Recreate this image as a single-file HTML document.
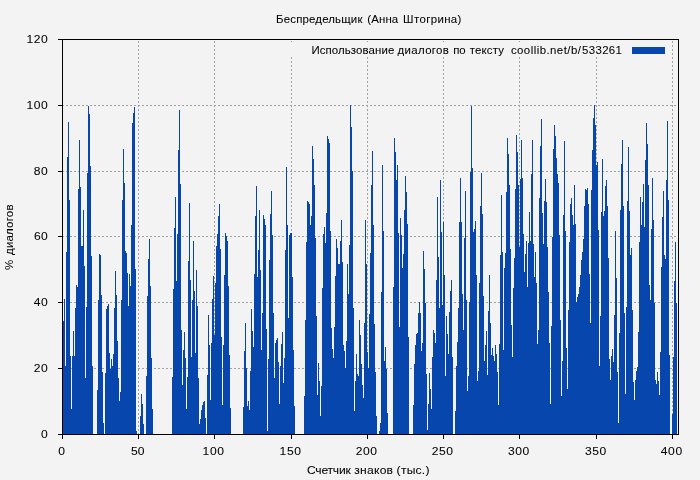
<!DOCTYPE html>
<html><head><meta charset="utf-8">
<style>
html,body{margin:0;padding:0;}
body{width:700px;height:480px;background:#f3f3f3;position:relative;overflow:hidden;}
svg{position:absolute;left:0;top:0}
text{font-family:"Liberation Sans",sans-serif;font-size:11px;fill:#000;stroke:#000;stroke-width:0.06;white-space:pre}
</style></head><body>
<svg width="700" height="480" viewBox="0 0 700 480" shape-rendering="crispEdges">
<g id="grid" stroke="#a0a0a0" stroke-width="1" stroke-dasharray="2 2" fill="none">
<path d="M62 368.5H678M62 302.5H678M62 236.5H678M62 171.5H678M62 105.5H678"/>
<path d="M138.5 435V40M214.5 435V40M291.5 435V40M367.5 435V40M443.5 435V40M519.5 435V40M596.5 435V40M672.5 435V40"/>
</g>
<rect x="280" y="42" width="388" height="15" fill="#f3f3f3"/>
<g id="bars" fill="#0646ad"><path d="M63 434V321h1V434zM64 434V299h1V434zM65 434V366h1V434zM66 434V252h1V434zM67 434V157h1V434zM68 434V122h1V434zM69 434V200h1V434zM70 434V356h1V434zM71 434V409h1V434zM72 434V356h1V434zM73 434V331h1V434zM74 434V356h1V434zM75 434V308h1V434zM76 434V285h1V434zM77 434V287h1V434zM78 434V189h1V434zM79 434V140h1V434zM80 434V187h1V434zM81 434V246h1V434zM82 434V246h1V434zM83 434V210h1V434zM84 434V266h1V434zM85 434V378h1V434zM86 434V307h1V434zM87 434V173h1V434zM88 434V106h1V434zM89 434V114h1V434zM90 434V166h1V434zM91 434V256h1V434zM92 434V366h1V434zM97 434V390h1V434zM98 434V300h1V434zM99 434V254h1V434zM100 434V255h1V434zM101 434V295h1V434zM102 434V372h1V434zM103 434V423h1V434zM105 434V373h1V434zM106 434V309h1V434zM107 434V306h1V434zM108 434V304h1V434zM109 434V353h1V434zM110 434V369h1V434zM111 434V359h1V434zM112 434V366h1V434zM113 434V354h1V434zM114 434V308h1V434zM115 434V271h1V434zM116 434V295h1V434zM117 434V341h1V434zM118 434V378h1V434zM119 434V401h1V434zM120 434V392h1V434zM121 434V300h1V434zM122 434V200h1V434zM123 434V149h1V434zM124 434V183h1V434zM125 434V251h1V434zM126 434V253h1V434zM127 434V273h1V434zM128 434V306h1V434zM129 434V274h1V434zM130 434V286h1V434zM131 434V225h1V434zM132 434V123h1V434zM133 434V113h1V434zM134 434V107h1V434zM135 434V269h1V434zM136 434V431h1V434zM140 434V416h1V434zM141 434V394h1V434zM142 434V404h1V434zM143 434V424h1V434zM146 434V376h1V434zM147 434V296h1V434zM148 434V259h1V434zM149 434V239h1V434zM150 434V286h1V434zM151 434V358h1V434zM152 434V409h1V434zM172 434V377h1V434zM173 434V289h1V434zM174 434V228h1V434zM175 434V197h1V434zM176 434V281h1V434zM177 434V234h1V434zM178 434V150h1V434zM179 434V110h1V434zM180 434V184h1V434zM181 434V330h1V434zM182 434V385h1V434zM183 434V350h1V434zM184 434V332h1V434zM185 434V358h1V434zM186 434V409h1V434zM187 434V377h1V434zM188 434V261h1V434zM189 434V203h1V434zM190 434V280h1V434zM191 434V357h1V434zM192 434V300h1V434zM193 434V241h1V434zM194 434V291h1V434zM195 434V353h1V434zM196 434V270h1V434zM197 434V306h1V434zM198 434V378h1V434zM199 434V424h1V434zM200 434V419h1V434zM201 434V410h1V434zM202 434V405h1V434zM203 434V402h1V434zM204 434V401h1V434zM205 434V418h1V434zM207 434V375h1V434zM208 434V315h1V434zM209 434V345h1V434zM210 434V400h1V434zM211 434V343h1V434zM212 434V299h1V434zM213 434V276h1V434zM214 434V335h1V434zM215 434V283h1V434zM216 434V246h1V434zM217 434V234h1V434zM218 434V216h1V434zM219 434V204h1V434zM220 434V249h1V434zM221 434V337h1V434zM222 434V405h1V434zM223 434V345h1V434zM224 434V275h1V434zM225 434V233h1V434zM226 434V236h1V434zM227 434V241h1V434zM228 434V286h1V434zM229 434V355h1V434zM230 434V408h1V434zM243 434V407h1V434zM244 434V351h1V434zM245 434V323h1V434zM246 434V368h1V434zM247 434V406h1V434zM248 434V401h1V434zM249 434V410h1V434zM250 434V371h1V434zM251 434V309h1V434zM252 434V331h1V434zM253 434V347h1V434zM254 434V274h1V434zM255 434V216h1V434zM256 434V186h1V434zM257 434V277h1V434zM258 434V250h1V434zM259 434V210h1V434zM260 434V270h1V434zM261 434V350h1V434zM262 434V313h1V434zM263 434V215h1V434zM264 434V219h1V434zM265 434V225h1V434zM266 434V329h1V434zM267 434V431h1V434zM268 434V359h1V434zM269 434V260h1V434zM270 434V214h1V434zM271 434V191h1V434zM272 434V235h1V434zM273 434V313h1V434zM274 434V378h1V434zM275 434V343h1V434zM276 434V340h1V434zM277 434V338h1V434zM278 434V362h1V434zM279 434V404h1V434zM280 434V366h1V434zM281 434V344h1V434zM282 434V332h1V434zM283 434V383h1V434zM284 434V358h1V434zM285 434V250h1V434zM286 434V167h1V434zM287 434V225h1V434zM288 434V318h1V434zM289 434V235h1V434zM290 434V233h1V434zM291 434V233h1V434zM292 434V277h1V434zM293 434V350h1V434zM294 434V406h1V434zM304 434V396h1V434zM305 434V320h1V434zM306 434V242h1V434zM307 434V201h1V434zM308 434V202h1V434zM309 434V204h1V434zM310 434V225h1V434zM311 434V216h1V434zM312 434V146h1V434zM313 434V159h1V434zM314 434V185h1V434zM315 434V238h1V434zM316 434V316h1V434zM317 434V395h1V434zM318 434V363h1V434zM319 434V381h1V434zM320 434V416h1V434zM321 434V386h1V434zM322 434V288h1V434zM323 434V234h1V434zM324 434V227h1V434zM325 434V243h1V434zM326 434V213h1V434zM327 434V136h1V434zM328 434V139h1V434zM329 434V143h1V434zM330 434V231h1V434zM331 434V328h1V434zM332 434V349h1V434zM333 434V358h1V434zM334 434V327h1V434zM335 434V276h1V434zM336 434V239h1V434zM337 434V248h1V434zM338 434V264h1V434zM339 434V264h1V434zM340 434V241h1V434zM341 434V220h1V434zM342 434V262h1V434zM343 434V345h1V434zM344 434V351h1V434zM345 434V368h1V434zM346 434V341h1V434zM347 434V264h1V434zM348 434V294h1V434zM349 434V245h1V434zM350 434V105h1V434zM351 434V127h1V434zM352 434V171h1V434zM353 434V308h1V434zM354 434V411h1V434zM355 434V381h1V434zM356 434V354h1V434zM357 434V374h1V434zM358 434V376h1V434zM359 434V320h1V434zM360 434V335h1V434zM361 434V364h1V434zM362 434V385h1V434zM363 434V398h1V434zM364 434V323h1V434zM365 434V220h1V434zM366 434V264h1V434zM367 434V352h1V434zM368 434V368h1V434zM369 434V314h1V434zM370 434V253h1V434zM371 434V185h1V434zM372 434V151h1V434zM373 434V225h1V434zM374 434V324h1V434zM375 434V372h1V434zM376 434V416h1V434zM379 434V431h1V434zM380 434V423h1V434zM381 434V292h1V434zM382 434V165h1V434zM383 434V231h1V434zM384 434V361h1V434zM385 434V347h1V434zM386 434V369h1V434zM387 434V413h1V434zM393 434V287h1V434zM394 434V138h1V434zM395 434V152h1V434zM396 434V180h1V434zM397 434V165h1V434zM398 434V233h1V434zM399 434V327h1V434zM400 434V218h1V434zM401 434V235h1V434zM402 434V268h1V434zM403 434V254h1V434zM404 434V210h1V434zM405 434V176h1V434zM406 434V192h1V434zM407 434V224h1V434zM408 434V337h1V434zM413 434V405h1V434zM414 434V364h1V434zM415 434V345h1V434zM416 434V334h1V434zM417 434V333h1V434zM418 434V313h1V434zM419 434V302h1V434zM420 434V313h1V434zM421 434V351h1V434zM422 434V343h1V434zM423 434V251h1V434zM424 434V269h1V434zM425 434V303h1V434zM426 434V374h1V434zM427 434V430h1V434zM428 434V404h1V434zM429 434V373h1V434zM430 434V389h1V434zM431 434V409h1V434zM432 434V357h1V434zM433 434V330h1V434zM434 434V333h1V434zM435 434V343h1V434zM436 434V280h1V434zM437 434V197h1V434zM438 434V257h1V434zM439 434V308h1V434zM440 434V180h1V434zM441 434V232h1V434zM442 434V305h1V434zM443 434V222h1V434zM444 434V275h1V434zM445 434V376h1V434zM446 434V316h1V434zM447 434V334h1V434zM448 434V354h1V434zM449 434V312h1V434zM450 434V291h1V434zM451 434V280h1V434zM452 434V357h1V434zM455 434V411h1V434zM456 434V366h1V434zM457 434V342h1V434zM458 434V308h1V434zM459 434V222h1V434zM460 434V178h1V434zM461 434V222h1V434zM462 434V294h1V434zM463 434V330h1V434zM464 434V238h1V434zM465 434V191h1V434zM466 434V300h1V434zM467 434V391h1V434zM468 434V376h1V434zM469 434V302h1V434zM470 434V172h1V434zM471 434V106h1V434zM472 434V168h1V434zM473 434V232h1V434zM474 434V229h1V434zM475 434V221h1V434zM476 434V275h1V434zM477 434V381h1V434zM478 434V371h1V434zM479 434V283h1V434zM480 434V206h1V434zM481 434V173h1V434zM482 434V214h1V434zM483 434V296h1V434zM484 434V361h1V434zM485 434V345h1V434zM486 434V331h1V434zM487 434V375h1V434zM488 434V311h1V434zM489 434V275h1V434zM490 434V323h1V434zM491 434V355h1V434zM492 434V348h1V434zM493 434V356h1V434zM494 434V361h1V434zM495 434V345h1V434zM496 434V354h1V434zM497 434V372h1V434zM498 434V405h1V434zM499 434V344h1V434zM500 434V255h1V434zM501 434V195h1V434zM502 434V252h1V434zM503 434V350h1V434zM504 434V268h1V434zM505 434V253h1V434zM506 434V192h1V434zM507 434V138h1V434zM508 434V154h1V434zM509 434V185h1V434zM510 434V249h1V434zM511 434V325h1V434zM512 434V357h1V434zM513 434V288h1V434zM514 434V258h1V434zM515 434V189h1V434zM516 434V135h1V434zM517 434V152h1V434zM518 434V185h1V434zM519 434V247h1V434zM520 434V179h1V434zM521 434V140h1V434zM522 434V178h1V434zM523 434V234h1V434zM524 434V272h1V434zM525 434V254h1V434zM526 434V241h1V434zM527 434V287h1V434zM528 434V243h1V434zM529 434V212h1V434zM530 434V241h1V434zM531 434V174h1V434zM532 434V140h1V434zM533 434V244h1V434zM534 434V277h1V434zM535 434V252h1V434zM536 434V283h1V434zM537 434V344h1V434zM538 434V330h1V434zM539 434V198h1V434zM540 434V146h1V434zM541 434V119h1V434zM542 434V213h1V434zM543 434V244h1V434zM544 434V201h1V434zM545 434V179h1V434zM546 434V202h1V434zM547 434V247h1V434zM548 434V292h1V434zM549 434V343h1V434zM550 434V404h1V434zM551 434V326h1V434zM552 434V237h1V434zM553 434V149h1V434zM554 434V125h1V434zM555 434V136h1V434zM556 434V158h1V434zM557 434V174h1V434zM558 434V183h1V434zM559 434V235h1V434zM560 434V320h1V434zM561 434V396h1V434zM562 434V361h1V434zM563 434V215h1V434zM564 434V141h1V434zM565 434V231h1V434zM566 434V348h1V434zM567 434V389h1V434zM568 434V310h1V434zM569 434V242h1V434zM570 434V204h1V434zM571 434V198h1V434zM572 434V215h1V434zM573 434V225h1V434zM574 434V185h1V434zM575 434V224h1V434zM576 434V302h1V434zM577 434V297h1V434zM578 434V294h1V434zM579 434V287h1V434zM580 434V275h1V434zM581 434V260h1V434zM582 434V252h1V434zM583 434V239h1V434zM584 434V206h1V434zM585 434V189h1V434zM586 434V190h1V434zM587 434V188h1V434zM588 434V204h1V434zM589 434V274h1V434zM590 434V323h1V434zM591 434V190h1V434zM592 434V150h1V434zM593 434V118h1V434zM594 434V105h1V434zM595 434V125h1V434zM596 434V165h1V434zM597 434V162h1V434zM598 434V230h1V434zM599 434V366h1V434zM600 434V316h1V434zM601 434V212h1V434zM602 434V159h1V434zM603 434V216h1V434zM604 434V211h1V434zM605 434V186h1V434zM606 434V180h1V434zM607 434V206h1V434zM608 434V258h1V434zM609 434V359h1V434zM610 434V380h1V434zM611 434V356h1V434zM612 434V349h1V434zM613 434V362h1V434zM614 434V315h1V434zM615 434V231h1V434zM616 434V278h1V434zM617 434V372h1V434zM618 434V423h1V434zM619 434V333h1V434zM620 434V210h1V434zM621 434V164h1V434zM622 434V140h1V434zM623 434V206h1V434zM624 434V313h1V434zM625 434V394h1V434zM626 434V307h1V434zM627 434V201h1V434zM628 434V147h1V434zM629 434V211h1V434zM630 434V255h1V434zM631 434V248h1V434zM632 434V310h1V434zM633 434V382h1V434zM634 434V400h1V434zM635 434V380h1V434zM636 434V371h1V434zM637 434V367h1V434zM638 434V332h1V434zM639 434V242h1V434zM640 434V197h1V434zM641 434V225h1V434zM642 434V202h1V434zM643 434V184h1V434zM644 434V227h1V434zM645 434V160h1V434zM646 434V123h1V434zM647 434V144h1V434zM648 434V185h1V434zM649 434V285h1V434zM650 434V300h1V434zM651 434V229h1V434zM652 434V178h1V434zM653 434V220h1V434zM654 434V303h1V434zM655 434V380h1V434zM656 434V384h1V434zM657 434V372h1V434zM658 434V381h1V434zM659 434V395h1V434zM660 434V352h1V434zM661 434V267h1V434zM662 434V217h1V434zM663 434V191h1V434zM664 434V255h1V434zM665 434V259h1V434zM666 434V180h1V434zM667 434V121h1V434zM668 434V200h1V434zM669 434V355h1V434zM672 434V414h1V434zM673 434V357h1V434zM674 434V281h1V434zM675 434V242h1V434zM676 434V303h1V434z"/></g>
<rect x="632" y="47" width="33" height="7" fill="#0646ad"/>
<g id="frame" stroke="#000" stroke-width="1" fill="none">
<path d="M62.5 39.5H678.5V434.5H62.5Z"/>
<path d="M58 39.5H62M58 105.5H62M58 171.5H62M58 236.5H62M58 302.5H62M58 368.5H62M58 434.5H62"/>
<path d="M62.5 435V439M138.5 435V439M214.5 435V439M291.5 435V439M367.5 435V439M443.5 435V439M519.5 435V439M596.5 435V439M672.5 435V439"/>
</g>
</svg>
<svg id="labels" width="700" height="480" viewBox="0 0 700 480" style="will-change:transform">
<text transform="translate(276.05,23) scale(1.04,1)" letter-spacing="0.16">Беспредельщик</text>
<text transform="translate(367.33,23) scale(1.04,1)" letter-spacing="0.10">(Анна</text>
<text transform="translate(403.10,23) scale(1.04,1)" letter-spacing="0.35">Штогрина)</text>
<text transform="translate(311.43,54) scale(1.04,1)" letter-spacing="0.09">Использование</text>
<text transform="translate(397.54,54) scale(1.04,1)" letter-spacing="0.33">диалогов</text>
<text transform="translate(453.25,54) scale(1.04,1)" letter-spacing="-0.12">по</text>
<text transform="translate(469.70,54) scale(1.04,1)" letter-spacing="0.15">тексту</text>
<text transform="translate(510.89,54) scale(1.04,1)" letter-spacing="0.43">coollib.net/b/</text>
<text transform="translate(582.05,54) scale(1.04,1)" letter-spacing="0.32">533261</text>
<text transform="translate(306.89,474) scale(1.1,1)" letter-spacing="-0.18">Счетчик</text>
<text transform="translate(354.26,474) scale(1.1,1)" letter-spacing="0.23">знаков</text>
<text transform="translate(396.61,474) scale(1.1,1)" letter-spacing="0.22">(тыс.)</text>
<text transform="translate(26.44,43) scale(1.1,1)" letter-spacing="0.56">120</text>
<text transform="translate(26.44,109) scale(1.1,1)" letter-spacing="0.56">100</text>
<text transform="translate(33.72,175) scale(1.1,1)" letter-spacing="0.55">80</text>
<text transform="translate(33.99,240) scale(1.1,1)" letter-spacing="0.18">60</text>
<text transform="translate(33.86,306) scale(1.1,1)" letter-spacing="0.37">40</text>
<text transform="translate(33.72,372) scale(1.1,1)" letter-spacing="0.54">20</text>
<text transform="translate(41.10,438) scale(1.1,1)" letter-spacing="0.00">0</text>
<text transform="translate(58.32,455) scale(1.1,1)" letter-spacing="0.00">0</text>
<text transform="translate(130.90,455) scale(1.1,1)" letter-spacing="0.06">50</text>
<text transform="translate(202.60,455) scale(1.1,1)" letter-spacing="0.52">100</text>
<text transform="translate(279.60,455) scale(1.1,1)" letter-spacing="0.52">150</text>
<text transform="translate(355.82,455) scale(1.1,1)" letter-spacing="0.48">200</text>
<text transform="translate(431.82,455) scale(1.1,1)" letter-spacing="0.48">250</text>
<text transform="translate(507.95,455) scale(1.1,1)" letter-spacing="0.47">300</text>
<text transform="translate(584.95,455) scale(1.1,1)" letter-spacing="0.47">350</text>
<text transform="translate(660.77,455) scale(1.1,1)" letter-spacing="0.55">400</text>
<g transform="translate(3,270.6) rotate(-90)"><text transform="translate(0.49,10) scale(1.04,1)" letter-spacing="0.00">%</text><text transform="translate(15.58,10) scale(1.04,1)" letter-spacing="0.22">диалогов</text></g>
</svg>
</body></html>
